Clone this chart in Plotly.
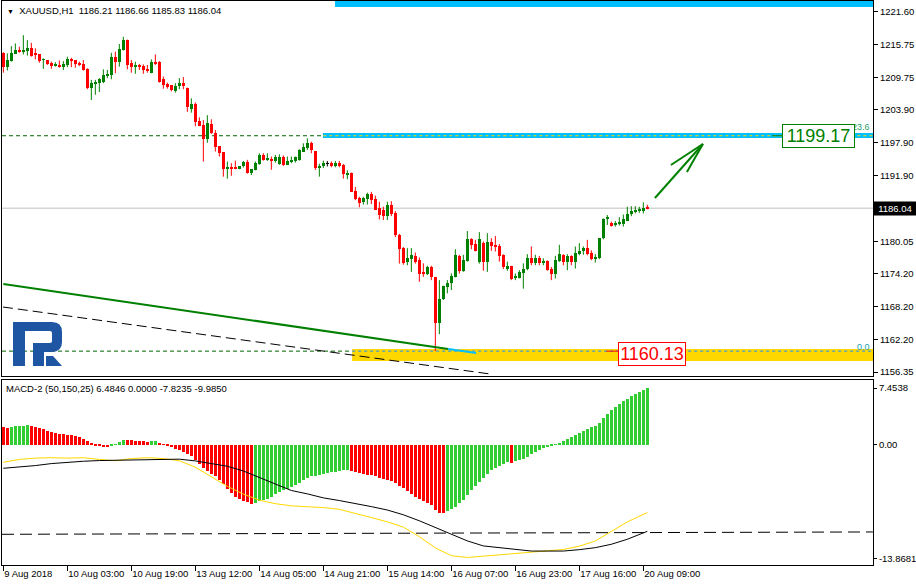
import plotly.graph_objects as go

# ---------------- data ----------------
time_tick_bars = [0, 16, 32, 48, 64, 80, 96, 112, 128, 144, 160]
time_tick_labels = ["9 Aug 2018", "10 Aug 03:00", "10 Aug 19:00", "13 Aug 12:00", "14 Aug 05:00",
                    "14 Aug 21:00", "15 Aug 14:00", "16 Aug 07:00", "16 Aug 23:00", "17 Aug 16:00",
                    "20 Aug 09:00"]

opens = [1214.1, 1211.7, 1212.7, 1214.05, 1214.7, 1214.4, 1214.6, 1215.1, 1214.0, 1214.0,
         1212.9, 1212.9, 1212.4, 1211.9, 1212.0, 1211.7, 1212.0, 1213.1, 1212.9, 1212.4,
         1212.2, 1211.3, 1207.8, 1208.7, 1208.8, 1209.0, 1210.0, 1210.2, 1213.5, 1212.6,
         1214.7, 1216.5, 1212.3, 1211.7, 1211.9, 1211.9, 1211.3, 1210.6, 1212.6, 1212.5,
         1209.4, 1208.55, 1208.3, 1207.3, 1208.1, 1208.8, 1207.9, 1204.1, 1204.9, 1201.9,
         1201.1, 1198.6, 1201.3, 1199.6, 1197.3, 1196.2, 1193.2, 1193.4, 1193.4, 1193.15,
         1193.6, 1194.5, 1192.5, 1193.0, 1194.05, 1195.7, 1194.8, 1195.0, 1194.65, 1194.05,
         1195.4, 1193.9, 1194.5, 1194.65, 1194.8, 1196.3, 1196.9, 1197.9, 1196.4, 1193.4,
         1193.6, 1194.05, 1194.2, 1193.6, 1194.2, 1193.9, 1192.1, 1192.4, 1189.2, 1187.8,
         1187.2, 1187.7, 1188.6, 1187.65, 1186.0, 1185.8, 1184.6, 1186.6, 1185.2, 1181.2,
         1178.8, 1176.2, 1176.8, 1177.4, 1176.65, 1174.5, 1174.2, 1175.3, 1173.5, 1165.3,
         1169.5, 1171.7, 1172.4, 1173.6, 1177.4, 1174.7, 1176.5, 1180.4, 1179.55, 1176.2,
         1179.8, 1176.2, 1180.0, 1179.4, 1179.2, 1177.6, 1175.0, 1175.6, 1173.3, 1173.45,
         1174.35, 1174.96, 1177.1, 1176.05, 1177.1, 1176.05, 1176.5, 1175.1, 1174.2, 1176.5,
         1177.6, 1176.2, 1177.4, 1176.2, 1177.7, 1178.2, 1178.8, 1178.0, 1176.9, 1176.95,
         1180.6, 1184.0, 1183.4, 1183.0, 1183.3, 1183.2, 1183.8, 1184.9, 1185.4, 1185.5,
         1185.7, 1186.21]
highs = [1214.3, 1214.1, 1215.4, 1215.9, 1215.3, 1217.4, 1216.5, 1216.0, 1215.0, 1214.0,
         1213.2, 1212.9, 1212.6, 1212.5, 1212.8, 1212.7, 1213.5, 1213.3, 1212.9, 1212.6,
         1212.9, 1211.4, 1209.3, 1209.3, 1209.6, 1211.2, 1211.1, 1214.2, 1214.4, 1215.8,
         1217.1, 1216.6, 1212.9, 1212.6, 1212.2, 1212.1, 1212.0, 1213.0, 1213.9, 1212.7,
         1209.9, 1208.8, 1208.3, 1208.7, 1209.6, 1209.8, 1207.9, 1205.95, 1205.2, 1202.5,
         1202.0, 1202.9, 1202.15, 1200.2, 1197.3, 1196.2, 1194.5, 1194.2, 1194.65, 1193.6,
         1194.6, 1194.8, 1193.1, 1194.5, 1196.0, 1196.0, 1196.0, 1195.4, 1195.7, 1195.8,
         1195.6, 1195.4, 1195.4, 1195.4, 1196.7, 1197.8, 1198.7, 1198.1, 1196.4, 1194.1,
         1194.65, 1194.6, 1194.5, 1194.6, 1194.6, 1194.05, 1192.9, 1192.5, 1189.9, 1188.1,
         1188.1, 1188.85, 1189.0, 1188.3, 1187.2, 1186.3, 1187.2, 1187.3, 1185.5, 1181.4,
         1179.0, 1178.8, 1178.8, 1178.0, 1177.1, 1176.05, 1175.6, 1175.6, 1173.6, 1173.0,
         1172.0, 1173.0, 1174.2, 1178.6, 1177.6, 1177.6, 1181.9, 1180.6, 1180.3, 1181.7,
         1180.0, 1181.5, 1180.6, 1181.0, 1179.55, 1177.7, 1176.35, 1175.6, 1174.2, 1174.8,
         1176.05, 1177.7, 1179.1, 1177.6, 1177.4, 1176.95, 1176.6, 1175.4, 1177.4, 1179.4,
         1177.7, 1177.7, 1177.5, 1179.1, 1179.7, 1179.1, 1180.3, 1178.4, 1177.7, 1180.6,
         1184.2, 1184.8, 1183.6, 1183.7, 1184.4, 1184.9, 1186.3, 1186.4, 1186.4, 1186.3,
         1187.1, 1186.66]
lows = [1210.6, 1211.0, 1212.6, 1214.0, 1214.2, 1213.9, 1213.7, 1213.5, 1213.0, 1212.4,
        1211.3, 1212.0, 1211.3, 1211.7, 1211.5, 1211.1, 1211.6, 1211.6, 1211.5, 1211.8,
        1210.97, 1207.6, 1205.65, 1206.6, 1207.1, 1208.7, 1209.6, 1209.4, 1210.5, 1211.7,
        1214.6, 1211.2, 1210.6, 1210.4, 1211.1, 1210.4, 1210.6, 1210.5, 1212.0, 1208.8,
        1207.7, 1207.7, 1207.2, 1207.0, 1207.6, 1207.6, 1203.5, 1203.35, 1200.9, 1200.9,
        1194.5, 1197.9, 1199.5, 1196.3, 1195.4, 1191.75, 1191.4, 1191.9, 1193.1, 1193.1,
        1193.4, 1192.3, 1192.06, 1192.9, 1193.9, 1194.65, 1194.6, 1193.0, 1194.3, 1193.9,
        1193.7, 1193.9, 1194.2, 1194.3, 1194.65, 1196.3, 1196.6, 1196.0, 1192.96, 1191.75,
        1193.3, 1193.6, 1193.45, 1193.45, 1193.45, 1191.4, 1191.3, 1189.0, 1187.5, 1186.2,
        1186.7, 1186.7, 1186.8, 1185.7, 1184.0, 1183.9, 1183.9, 1184.6, 1180.8, 1176.0,
        1175.8, 1175.7, 1174.5, 1176.0, 1172.7, 1173.6, 1173.9, 1173.0, 1160.13, 1163.2,
        1169.4, 1170.6, 1171.2, 1173.5, 1174.2, 1174.5, 1176.35, 1178.6, 1178.2, 1176.0,
        1174.7, 1174.5, 1178.3, 1178.2, 1176.35, 1175.0, 1174.7, 1173.0, 1173.0, 1173.3,
        1171.45, 1174.8, 1175.7, 1175.7, 1175.7, 1175.7, 1174.7, 1173.0, 1173.3, 1176.3,
        1175.7, 1174.8, 1175.7, 1175.1, 1177.5, 1177.6, 1177.5, 1176.6, 1176.2, 1176.8,
        1180.4, 1183.0, 1182.7, 1182.7, 1182.9, 1182.7, 1183.7, 1184.6, 1185.1, 1185.2,
        1185.1, 1185.83]
closes = [1211.7, 1212.9, 1214.2, 1214.7, 1214.35, 1214.7, 1215.1, 1213.6, 1213.9, 1212.8,
          1213.0, 1212.2, 1211.9, 1212.2, 1211.7, 1212.2, 1213.1, 1212.8, 1212.2, 1212.05,
          1211.1, 1207.8, 1208.8, 1209.0, 1209.4, 1210.2, 1210.4, 1213.5, 1212.6, 1214.95,
          1216.5, 1212.0, 1211.6, 1211.9, 1211.7, 1211.1, 1210.85, 1212.5, 1212.1, 1208.9,
          1208.4, 1207.95, 1207.5, 1208.25, 1208.8, 1208.1, 1204.4, 1204.9, 1201.7, 1200.95,
          1198.6, 1201.5, 1199.6, 1197.1, 1196.1, 1193.2, 1193.4, 1193.2, 1193.15, 1193.6,
          1194.5, 1192.5, 1193.1, 1194.2, 1195.7, 1194.8, 1195.0, 1194.65, 1195.3, 1195.4,
          1193.9, 1194.6, 1194.8, 1195.3, 1196.6, 1197.1, 1197.9, 1196.6, 1193.4, 1193.75,
          1194.2, 1194.05, 1193.6, 1194.2, 1193.6, 1192.2, 1192.5, 1189.05, 1187.65, 1187.05,
          1187.95, 1188.6, 1187.5, 1185.8, 1184.8, 1184.6, 1186.7, 1184.9, 1181.2, 1178.7,
          1176.1, 1177.1, 1177.6, 1176.35, 1174.1, 1174.2, 1175.3, 1173.5, 1165.3, 1169.5,
          1171.9, 1172.5, 1173.75, 1177.6, 1174.7, 1176.65, 1180.4, 1179.4, 1178.3, 1180.4,
          1176.2, 1179.9, 1179.2, 1179.1, 1177.4, 1175.3, 1175.6, 1173.15, 1173.75, 1174.5,
          1175.1, 1177.1, 1176.05, 1176.95, 1176.05, 1176.5, 1174.85, 1174.2, 1176.65, 1177.7,
          1176.2, 1177.4, 1176.2, 1178.0, 1178.3, 1178.8, 1177.7, 1176.8, 1177.25, 1180.6,
          1184.0, 1184.5, 1182.8, 1183.4, 1183.6, 1184.0, 1185.0, 1185.5, 1185.7, 1185.9,
          1186.0, 1186.04]

macd_hist = [2.09, 1.93, 2.09, 2.12, 2.16, 2.20, 2.24, 2.12, 2.01, 1.89,
             1.78, 1.62, 1.47, 1.31, 1.23, 1.19, 1.16, 1.08, 1.00, 0.92,
             0.69, 0.38, 0.15, -0.09, -0.16, -0.24, -0.32, -0.16, 0.07, 0.30,
             0.53, 0.52, 0.50, 0.48, 0.46, 0.38, 0.34, 0.38, 0.42, 0.15,
             -0.01, -0.16, -0.32, -0.47, -0.63, -0.82, -1.02, -1.33, -1.79, -2.18,
             -2.72, -3.03, -3.34, -3.65, -4.12, -4.58, -5.12, -5.59, -5.98, -6.29,
             -6.44, -6.60, -6.83, -6.67, -6.44, -6.36, -6.21, -6.05, -5.74, -5.51,
             -5.28, -5.12, -4.89, -4.66, -4.43, -4.12, -3.81, -3.65, -3.57, -3.50,
             -3.42, -3.30, -3.19, -3.11, -3.03, -2.95, -2.88, -3.07, -3.19, -3.30,
             -3.38, -3.46, -3.53, -3.65, -3.81, -3.92, -4.04, -4.19, -4.43, -4.74,
             -5.05, -5.36, -5.67, -5.98, -6.21, -6.44, -6.67, -6.91, -7.53, -7.84,
             -7.91, -7.68, -7.45, -7.14, -6.75, -6.36, -5.82, -5.28, -4.81, -4.27,
             -3.81, -3.34, -2.95, -2.64, -2.41, -2.22, -2.02, -2.06, -1.87, -1.71,
             -1.60, -1.40, -1.09, -0.82, -0.59, -0.43, -0.32, -0.16, 0.03, 0.22,
             0.46, 0.69, 0.92, 1.16, 1.39, 1.62, 1.85, 2.01, 2.16, 2.47,
             3.02, 3.56, 3.95, 4.33, 4.68, 4.99, 5.30, 5.60, 5.85, 6.05,
             6.28, 6.4846]

macd_line_bars = [0, 4, 8, 12, 16, 20, 24, 28, 32, 36, 40, 44, 48, 52, 56, 60, 64, 68, 72, 76,
                  80, 84, 88, 92, 96, 100, 104, 108, 112, 116, 120, 124, 128, 132, 136, 140,
                  144, 148, 152, 156, 161]
macd_black = [-2.72, -2.57, -2.41, -2.18, -2.02, -1.91, -1.83, -1.79, -1.71, -1.67, -1.67, -1.67,
              -1.87, -2.18, -2.49, -3.03, -3.81, -4.58, -5.28, -5.67, -6.13, -6.44, -6.75, -7.14,
              -7.53, -8.08, -8.77, -9.54, -10.32, -11.09, -11.67, -11.87, -12.10, -12.26, -12.26,
              -12.26, -12.10, -11.87, -11.48, -10.90, -9.985]
macd_yellow = [-2.03, -1.70, -1.55, -1.50, -1.55, -1.50, -1.70, -1.85, -1.60, -1.50, -1.60, -1.85,
               -2.60, -3.70, -4.80, -5.70, -6.40, -6.80, -7.05, -7.15, -7.25, -7.45, -7.90, -8.40,
               -8.90, -9.50, -10.60, -11.90, -12.80, -13.00, -12.85, -12.70, -12.55, -12.40,
               -12.26, -12.08, -11.70, -11.10, -10.00, -8.90, -7.8235]
macd_level_line = [(-0.33, -10.33), (217.4, -10.06)]

price_ticks = [1221.60, 1215.75, 1209.75, 1203.90, 1197.90, 1191.90, 1180.05, 1174.20,
               1168.20, 1162.20, 1156.35]
macd_tick_text = ["7.4538", "0.00", "-13.8681"]
last_price = 1186.04
target_level = 1199.17
low_level = 1160.13
top_level_band = (1222.5, 1223.6)
green_trend = [(0.0, 1172.3), (111.2, 1160.52)]
blue_trend = [(111.2, 1160.52), (118.2, 1159.8)]
black_trend = [(-0.1, 1168.13), (121.7, 1155.99)]
arrow_shaft = [(162.9, 1187.89), (174.9, 1197.67)]
arrow_barbs = [(166.9, 1193.87), (170.9, 1192.6)]

title_text = "XAUUSD,H1\u00a0\u00a01186.21 1186.66 1185.83 1186.04"
macd_title = "MACD-2 (50,150,25) 6.4846 0.0000 -7.8235 -9.9850"

# ---------------- layout helpers (pixels -> paper) ----------------
PL, PR, PT, PB = 2, 873, 1, 565
def pxx(p):
    return (p - PL) / (PR - PL)
def pxy(p):
    return (PB - p) / (PB - PT)

FONT = "Liberation Sans, Arial, sans-serif"
UP, DOWN, FLAT = "#008000", "#FF0000", "#000000"
X_RANGE = [-0.333, 217.42]

fig = go.Figure()

# candles
n = len(opens)
groups = {UP: [], DOWN: [], FLAT: []}
for i in range(n):
    o, c = opens[i], closes[i]
    col = UP if c > o else (DOWN if c < o else FLAT)
    groups[col].append(i)

for col, ids in groups.items():
    if not ids:
        continue
    wx, wy = [], []
    for i in ids:
        wx += [i, i, None]
        wy += [lows[i], highs[i], None]
    fig.add_trace(go.Scatter(x=wx, y=wy, mode="lines", line=dict(color=col, width=1),
                             xaxis="x", yaxis="y", hoverinfo="skip"))
    fig.add_trace(go.Bar(x=ids, base=[min(opens[i], closes[i]) for i in ids],
                         y=[max(abs(closes[i] - opens[i]), 0.12) for i in ids],
                         width=0.75, marker=dict(color=col, line=dict(width=0)),
                         xaxis="x", yaxis="y", hoverinfo="skip"))

# arrow (shaft + barbs)
ax_, ay_ = [], []
tip = arrow_shaft[1]
ax_ += [arrow_shaft[0][0], tip[0], None]
ay_ += [arrow_shaft[0][1], tip[1], None]
for b in arrow_barbs:
    ax_ += [b[0], tip[0], None]
    ay_ += [b[1], tip[1], None]
fig.add_trace(go.Scatter(x=ax_, y=ay_, mode="lines", line=dict(color="#008000", width=2),
                         xaxis="x", yaxis="y", hoverinfo="skip"))

# MACD histogram
hist_cols = ["#32CD32" if (i > 0 and macd_hist[i] > macd_hist[i - 1]) else "#FF0000"
             for i in range(len(macd_hist))]
fig.add_trace(go.Bar(x=list(range(len(macd_hist))), y=macd_hist, width=0.75,
                     marker=dict(color=hist_cols, line=dict(width=0)),
                     xaxis="x2", yaxis="y2", hoverinfo="skip"))
fig.add_trace(go.Scatter(x=macd_line_bars, y=macd_yellow, mode="lines",
                         line=dict(color="#FFD700", width=1), xaxis="x2", yaxis="y2",
                         hoverinfo="skip"))
fig.add_trace(go.Scatter(x=macd_line_bars, y=macd_black, mode="lines",
                         line=dict(color="#000000", width=1), xaxis="x2", yaxis="y2",
                         hoverinfo="skip"))

shapes = []
# current price line
shapes.append(dict(type="line", xref="x", yref="y", x0=X_RANGE[0], x1=X_RANGE[1],
                   y0=last_price, y1=last_price, line=dict(color="#C0C0C0", width=1),
                   layer="below"))
# dashed green horizontal levels
shapes.append(dict(type="line", xref="x", yref="y", x0=X_RANGE[0], x1=80, y0=target_level,
                   y1=target_level, line=dict(color="#006400", width=1, dash="4px,3px"),
                   layer="below"))
shapes.append(dict(type="line", xref="x", yref="y", x0=X_RANGE[0], x1=87.2, y0=low_level,
                   y1=low_level, line=dict(color="#006400", width=1, dash="4px,3px"),
                   layer="below"))
# bands
shapes.append(dict(type="rect", xref="x", yref="y", x0=82.9, x1=X_RANGE[1],
                   y0=top_level_band[0], y1=top_level_band[1], fillcolor="#00BFFF",
                   line=dict(width=0), layer="below"))
shapes.append(dict(type="rect", xref="x", yref="y", x0=79.9, x1=X_RANGE[1],
                   y0=target_level - 0.42, y1=target_level + 0.5, fillcolor="#00BFFF",
                   line=dict(width=0), layer="below"))
shapes.append(dict(type="line", xref="x", yref="y", x0=80, x1=X_RANGE[1], y0=target_level,
                   y1=target_level, line=dict(color="#FFD700", width=1, dash="3px,3px"),
                   layer="below"))
shapes.append(dict(type="rect", xref="x", yref="y", x0=87.2, x1=X_RANGE[1],
                   y0=low_level - 1.8, y1=low_level + 0.4, fillcolor="#FFD700",
                   line=dict(width=0), layer="below"))
shapes.append(dict(type="line", xref="x", yref="y", x0=87.2, x1=X_RANGE[1], y0=low_level,
                   y1=low_level, line=dict(color="#1E90FF", width=1, dash="3px,3px"),
                   layer="below"))
# small connector lines next to price boxes
shapes.append(dict(type="line", xref="x", yref="y", x0=150.7, x1=153.7, y0=low_level,
                   y1=low_level, line=dict(color="#FF0000", width=1)))
shapes.append(dict(type="line", xref="x", yref="y", x0=192.2, x1=194.8, y0=target_level,
                   y1=target_level, line=dict(color="#008000", width=1)))
# trend lines
shapes.append(dict(type="line", xref="x", yref="y", x0=green_trend[0][0], y0=green_trend[0][1],
                   x1=green_trend[1][0], y1=green_trend[1][1],
                   line=dict(color="#008000", width=2)))
shapes.append(dict(type="line", xref="x", yref="y", x0=blue_trend[0][0], y0=blue_trend[0][1],
                   x1=blue_trend[1][0], y1=blue_trend[1][1],
                   line=dict(color="#00BFFF", width=2)))
shapes.append(dict(type="line", xref="x", yref="y", x0=black_trend[0][0], y0=black_trend[0][1],
                   x1=black_trend[1][0], y1=black_trend[1][1],
                   line=dict(color="#000000", width=1, dash="10px,5px")))
# MACD level line
shapes.append(dict(type="line", xref="x2", yref="y2", x0=macd_level_line[0][0],
                   y0=macd_level_line[0][1], x1=macd_level_line[1][0], y1=macd_level_line[1][1],
                   line=dict(color="#000000", width=1, dash="12px,6px")))

# logo (pixel outline converted to paper units)
def path_from(cmds):
    out = []
    for c in cmds:
        if c[0] == "Z":
            out.append("Z")
        elif c[0] == "Q":
            out.append("Q %.5f,%.5f %.5f,%.5f" % (pxx(c[1]), pxy(c[2]), pxx(c[3]), pxy(c[4])))
        else:
            out.append("%s %.5f,%.5f" % (c[0], pxx(c[1]), pxy(c[2])))
    return " ".join(out)

logo_main = [("M", 13, 322), ("L", 52, 322), ("Q", 62, 322, 62, 332), ("L", 62, 342),
             ("Q", 62, 352, 52, 352), ("L", 44, 352), ("L", 44, 366), ("L", 33, 366),
             ("L", 33, 343), ("L", 50, 343), ("Q", 52, 343, 52, 341), ("L", 52, 333),
             ("Q", 52, 331, 50, 331), ("L", 25, 331), ("L", 25, 366), ("L", 13, 366), ("Z",)]
logo_leg = [("M", 46, 356), ("L", 53, 356), ("L", 62, 366), ("L", 46, 366), ("Z",)]
for part in (logo_main, logo_leg):
    shapes.append(dict(type="path", xref="paper", yref="paper", path=path_from(part),
                       fillcolor="#1F56A3", line=dict(width=0), layer="above"))

annotations = [
    dict(xref="paper", yref="paper", x=pxx(5), y=pxy(10.5), xanchor="left", yanchor="middle",
         text='<span style="font-size:7px">\u25bc</span>\u00a0\u00a0' + title_text,
         showarrow=False, font=dict(family=FONT, size=9.5, color="black")),
    dict(xref="paper", yref="paper", x=pxx(4), y=pxy(388.5), xanchor="left", yanchor="middle",
         text=macd_title, showarrow=False, font=dict(family=FONT, size=9.5, color="black")),
    dict(xref="paper", yref="y", x=1, y=last_price, xanchor="left", yanchor="middle",
         text="%.2f" % last_price, showarrow=False, bgcolor="black", borderpad=1,
         width=40, height=11, font=dict(family=FONT, size=9.5, color="white")),
    dict(xref="paper", yref="y", x=pxx(872), y=1200.76, xanchor="right", yanchor="middle",
         text="23.6", showarrow=False, font=dict(family=FONT, size=9, color="#2E9A6A")),
    dict(xref="paper", yref="y", x=pxx(872), y=1160.94, xanchor="right", yanchor="middle",
         text="0.0", showarrow=False, font=dict(family=FONT, size=9, color="#1AA0B0")),
    dict(xref="x", yref="y", x=203.8, y=1199.07, xanchor="center", yanchor="middle",
         text="%.2f" % target_level, showarrow=False, bgcolor="white",
         bordercolor="#008000", borderwidth=1, borderpad=0, width=71, height=22,
         font=dict(family=FONT, size=18, color="#008000")),
    dict(xref="x", yref="y", x=162.2, y=1159.7, xanchor="center", yanchor="middle",
         text="%.2f" % low_level, showarrow=False, bgcolor="white",
         bordercolor="#FF0000", borderwidth=1, borderpad=0, width=66, height=22,
         font=dict(family=FONT, size=18, color="#FF0000")),
]

axis_common = dict(showgrid=False, zeroline=False, showline=True, mirror=True,
                   linecolor="black", linewidth=1, fixedrange=True)

fig.update_layout(
    width=916, height=587,
    margin=dict(l=PL, r=916 - PR, t=PT, b=587 - PB, autoexpand=False),
    paper_bgcolor="white", plot_bgcolor="white",
    showlegend=False, barmode="overlay", bargap=0, hovermode=False,
    font=dict(family=FONT, size=9.5, color="black"),
    xaxis=dict(domain=[0, 1], anchor="y", range=X_RANGE, showticklabels=False, ticks="",
               **axis_common),
    xaxis2=dict(domain=[0, 1], anchor="y2", matches="x", range=X_RANGE,
                tickmode="array", tickvals=time_tick_bars, ticktext=time_tick_labels,
                ticks="outside", ticklen=5, tickcolor="black", ticklabelposition="outside right",
                tickangle=0, automargin=False,
                tickfont=dict(family=FONT, size=9.5, color="black"), **axis_common),
    yaxis=dict(domain=[pxy(376), 1], anchor="x", side="right", range=[1155.625, 1223.59],
               tickmode="array", tickvals=price_ticks, ticktext=["%.2f" % v for v in price_ticks],
               ticks="outside", ticklen=4, tickcolor="black",
               tickfont=dict(family=FONT, size=9.5, color="black"), automargin=False,
               **axis_common),
    yaxis2=dict(domain=[0, pxy(380)], anchor="x2", side="right", range=[-13.8681, 7.4538],
                tickmode="array", tickvals=[6.53, 0, -13.17], ticktext=macd_tick_text,
                ticks="outside", ticklen=3, tickcolor="black",
                tickfont=dict(family=FONT, size=9.5, color="black"), automargin=False,
                **axis_common),
    shapes=shapes,
    annotations=annotations,
)

fig.write_html("out.html", config={"displayModeBar": False},
               post_script="document.body.style.margin='0';document.body.style.overflow='hidden';")
